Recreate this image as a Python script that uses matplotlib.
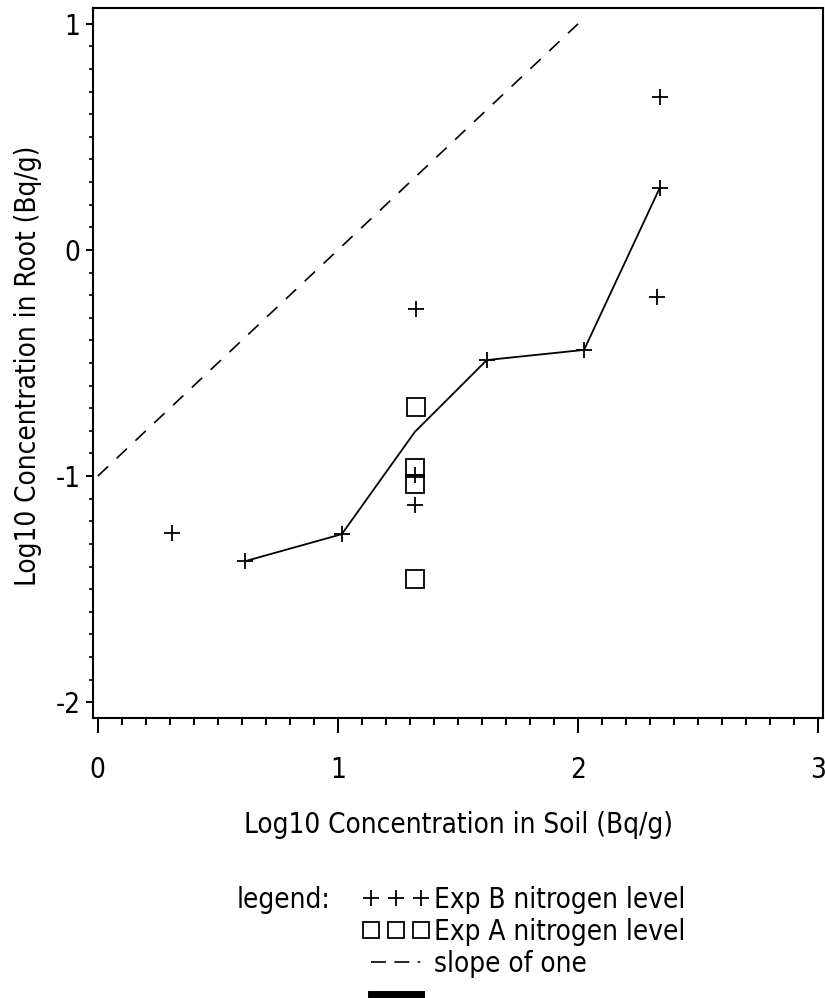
import matplotlib as mpl
from matplotlib import font_manager
import matplotlib.pyplot as plt
from matplotlib.lines import Line2D
from matplotlib.ticker import MultipleLocator

# pick a narrow face if one is installed, it looks closer to the plotter font
names = set(f.name for f in font_manager.fontManager.ttflist)
if "Liberation Sans Narrow" in names:
    mpl.rcParams["font.family"] = "Liberation Sans Narrow"
else:
    mpl.rcParams["font.family"] = "DejaVu Sans"
    mpl.rcParams["font.stretch"] = "condensed"
mpl.rcParams["axes.unicode_minus"] = False

# Exp B (plus markers)
expB_x = [0.31, 0.615, 1.016, 1.325, 1.32, 1.32, 1.62, 2.025, 2.34, 2.34, 2.33]
expB_y = [-1.25, -1.376, -1.257, -0.26, -0.996, -1.13, -0.487, -0.442, 0.677, 0.274, -0.208]

# Exp A (open squares)
expA_x = [1.325, 1.32, 1.32, 1.32]
expA_y = [-0.695, -0.965, -1.035, -1.456]

# solid connecting line
mean_x = [0.615, 1.016, 1.32, 1.62, 2.025, 2.34]
mean_y = [-1.376, -1.257, -0.805, -0.487, -0.442, 0.274]

# slope of one reference
slope_x = [0.0, 2.0]
slope_y = [-1.0, 1.0]

xticks = [0, 1, 2, 3]
yticks = [-2, -1, 0, 1]

fs = 20

fig = plt.figure(figsize=(8.25, 9.98), dpi=100)
ax = fig.add_axes([93 / 825, 280 / 998, 730 / 825, 710 / 998])

ax.plot(slope_x, slope_y, color="k", lw=1.2, dashes=(8.5, 7))
ax.plot(mean_x, mean_y, color="k", lw=1.3)
ax.plot(expB_x, expB_y, ls="none", marker="+", ms=12, mew=1.3, color="k")
ax.plot(expA_x, expA_y, ls="none", marker="s", ms=13, mew=1.3,
        mfc="none", mec="k")

ax.set_xlim(-0.02, 3.02)
ax.set_ylim(-2.07, 1.07)
ax.set_xticks(xticks)
ax.set_yticks(yticks)
ax.xaxis.set_minor_locator(MultipleLocator(0.1))
ax.yaxis.set_minor_locator(MultipleLocator(0.1))
ax.tick_params(axis="x", which="major", length=11, width=1.4, pad=16, labelsize=fs)
ax.tick_params(axis="x", which="minor", length=5, width=1.4)
ax.tick_params(axis="y", which="major", length=5, width=1.4, pad=4, labelsize=fs)
ax.tick_params(axis="y", which="minor", length=3, width=1.2)
for s in ax.spines.values():
    s.set_linewidth(1.5)

ax.set_xlabel("Log10 Concentration in Soil (Bq/g)", fontsize=fs, va="center")
ax.xaxis.set_label_coords(0.5, -0.151)
ax.set_ylabel("Log10 Concentration in Root (Bq/g)", fontsize=fs, va="center")
ax.yaxis.set_label_coords(-0.089, 0.496)

# legend block, last row runs off the bottom of the page like the original
fig.text(237 / 825, 1 - 900 / 998, "legend:", fontsize=fs, va="center", ha="left")
handles = [
    Line2D([], [], ls="none", marker="+", ms=12, mew=1.3, color="k"),
    Line2D([], [], ls="none", marker="s", ms=12, mew=1.3, mfc="none", mec="k"),
    Line2D([], [], ls="--", lw=1.2, dashes=(9, 5, 9, 5, 1.5, 60), color="k"),
    Line2D([], [], ls="-", lw=5, color="k"),
]
labels = ["Exp B nitrogen level", "Exp A nitrogen level", "slope of one", ""]
fig.legend(handles, labels, loc="upper left", bbox_to_anchor=(363 / 825, 1 - 886 / 998),
           frameon=False, fontsize=fs, numpoints=3, handlelength=2.4,
           handletextpad=0.15, labelspacing=0.14, borderpad=0, borderaxespad=0)

fig.savefig("out.png", dpi=100)
